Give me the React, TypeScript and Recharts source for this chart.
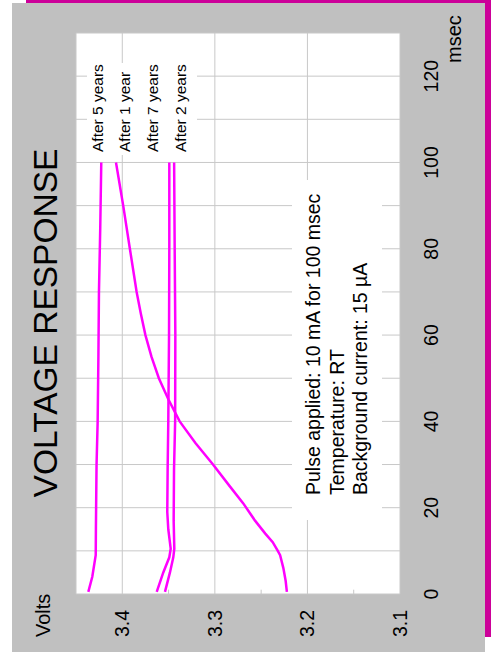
import React from 'react';
import { LineChart, Line, XAxis, YAxis, CartesianGrid, ReferenceLine } from 'recharts';

// msec ticks and volt ticks
const MSEC_TICKS = [0, 10, 20, 30, 40, 50, 60, 70, 80, 90, 100, 110, 120, 130];
const VOLT_TICKS = [3.1, 3.2, 3.3, 3.4];
const VOLT_MINOR = [3.15, 3.25, 3.35];

// After 5 years
const t5 = [0.5, 4, 9, 15, 30, 40, 55, 70, 85, 100];
const v5 = [3.4367, 3.4324, 3.4287, 3.4285, 3.4278, 3.4266, 3.4258, 3.4252, 3.4238, 3.4227];

// After 1 year
const t1 = [0.5, 3, 6, 9, 10, 12, 14, 17, 21, 25, 30, 35, 40, 45, 50, 55, 60, 65, 70, 80, 90, 100];
const v1 = [3.2222, 3.2235, 3.226, 3.2295, 3.232, 3.2375, 3.2455, 3.2566, 3.2693, 3.284, 3.302, 3.321, 3.338, 3.35, 3.3605, 3.3685, 3.375, 3.38, 3.3845, 3.3918, 3.399, 3.4068];

// After 7 years
const t7 = [0.5, 5, 8.5, 10.5, 15, 19, 29, 40, 60, 80, 100];
const v7 = [3.3628, 3.3557, 3.3492, 3.3477, 3.3503, 3.3514, 3.351, 3.3503, 3.3495, 3.3492, 3.3492];

// After 2 years
const t2 = [0.5, 5, 8.5, 10.5, 17, 29, 40, 60, 80, 100];
const v2 = [3.3539, 3.3485, 3.3449, 3.3438, 3.3445, 3.3441, 3.3429, 3.3427, 3.3434, 3.344];

const CURVE_LABELS = ['After 5 years', 'After 1 year', 'After 7 years', 'After 2 years'];
const NOTE_LINES = ['Pulse applied: 10 mA for 100 msec', 'Temperature: RT', 'Background current: 15 \u00B5A'];

const mk = (t: number[], v: number[]) => t.map((x, i) => ({ t: x, v: v[i] }));
const d5 = mk(t5, v5);
const d1 = mk(t1, v1);
const d7 = mk(t7, v7);
const d2 = mk(t2, v2);

const FONT = '"Liberation Sans", Arial, sans-serif';
const LINE_COLOR = '#FF00FF';

export default function App() {
  const W = 660;
  const H = 491;
  return (
    <div style={{ position: 'fixed', left: 0, top: 0, width: 491, height: 660, background: '#fff', overflow: 'hidden' }}>
      <div style={{ position: 'absolute', left: 26, top: 0, width: 465, height: 637, background: '#CC0099' }} />
      <div style={{ position: 'absolute', left: 12, top: 3, width: 473, height: 649, background: '#C0C0C0' }} />
      <div
        style={{
          position: 'absolute',
          left: 0,
          top: 0,
          width: W,
          height: H,
          transformOrigin: '0 0',
          transform: 'translateY(660px) rotate(-90deg)',
          fontFamily: FONT,
        }}
      >
        <LineChart width={W} height={H} margin={{ top: 76, right: 33, bottom: 0, left: 0 }} style={{ fontFamily: FONT }}>
          <CartesianGrid stroke="#C8C8C8" fill="#FFFFFF" fillOpacity={1} />
          <XAxis
            type="number"
            dataKey="t"
            domain={[0, 130]}
            ticks={MSEC_TICKS}
            allowDataOverflow
            height={91}
            axisLine={false}
            tickLine={false}
            tickSize={0}
            tickMargin={24}
            interval={0}
            tickFormatter={(v: number) => (v % 20 === 0 && v <= 120 ? String(v) : '')}
            tick={{ fill: '#000', fontSize: 19.5, fontFamily: FONT }}
          />
          <YAxis
            type="number"
            dataKey="v"
            domain={[3.1, 3.45]}
            ticks={VOLT_TICKS}
            allowDataOverflow
            width={66}
            axisLine={false}
            tickLine={false}
            tickSize={0}
            tickMargin={16}
            interval={0}
            tickFormatter={(v: number) => v.toFixed(1)}
            tick={{ fill: '#000', fontSize: 19.5, fontFamily: FONT }}
          />
          {VOLT_MINOR.map((m) => (
            <ReferenceLine
              key={m}
              segment={[{ x: 0, y: m }, { x: 1, y: m }]}
              stroke="#C8C8C8"
              strokeWidth={1}
              ifOverflow="visible"
            />
          ))}
          <Line data={d5} dataKey="v" type="linear" stroke={LINE_COLOR} strokeWidth={2.5} dot={false} isAnimationActive={false} />
          <Line data={d1} dataKey="v" type="linear" stroke={LINE_COLOR} strokeWidth={2.5} dot={false} isAnimationActive={false} />
          <Line data={d7} dataKey="v" type="linear" stroke={LINE_COLOR} strokeWidth={2.5} dot={false} isAnimationActive={false} />
          <Line data={d2} dataKey="v" type="linear" stroke={LINE_COLOR} strokeWidth={2.5} dot={false} isAnimationActive={false} />
        </LineChart>
        <svg
          width={W}
          height={H}
          style={{ position: 'absolute', left: 0, top: 0, pointerEvents: 'none', fontFamily: FONT }}
        >
          <text x={337} y={57} textAnchor="middle" fontSize={33.5} fill="#000">VOLTAGE RESPONSE</text>
          <text x={23} y={50} fontSize={20} fill="#000">Volts</text>
          <text x={597} y={461} fontSize={20} fill="#000">msec</text>
          <rect x={505} y={87} width={92} height={110} fill="#fff" />
          {CURVE_LABELS.map((s, i) => (
            <text key={s} x={508} y={[103, 130, 158, 186][i]} fontSize={15.5} fill="#000">{s}</text>
          ))}
          <rect x={140} y={292} width={340} height={90} fill="#fff" />
          {NOTE_LINES.map((s, i) => (
            <text key={s} x={165} y={320 + i * 23.5} fontSize={19.5} fill="#000">{s}</text>
          ))}
        </svg>
      </div>
    </div>
  );
}
